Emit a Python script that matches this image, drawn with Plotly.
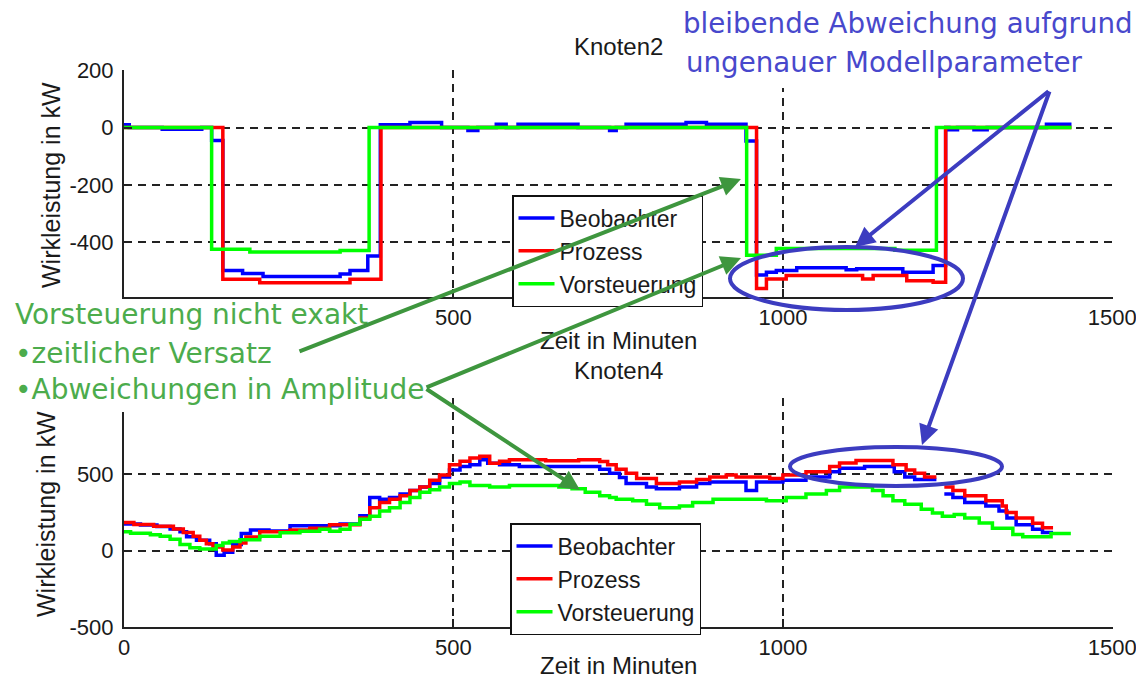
import plotly.graph_objects as go

# picture is 1144x679; the page body adds an 8px margin, so the figure is 8px smaller
OFF = 8
W, H = 1144 - OFF, 679 - OFF

# ---------------- data: Knoten2 (top) ----------------
k2_beob_t = [0, 8, 58, 118, 133, 150, 180, 211, 328, 343, 370, 389, 434, 482, 522, 537, 565, 580,
             598, 689, 737, 747, 762, 853, 884, 944, 960, 975, 990, 1021, 1096, 1112, 1182, 1228,
             1247, 1252, 1265, 1290, 1310, 1400, 1438]
k2_beob_v = [10, 0, -6, 0, -45, -498, -508, -519, -510, -498, -447, 10, 18, 0, -10, 0, 12, 0,
             12, 0, -10, 0, 12, 18, 12, -47, -513, -504, -498, -488, -495, -492, -504, -480,
             0, -8, 0, -8, 0, 12, 12]
k2_proz_t = [0, 150, 206, 343, 390, 960, 975, 1005, 1121, 1137, 1188, 1228, 1247, 1438]
k2_proz_v = [0, -528, -540, -528, 0, -560, -527, -515, -527, -515, -533, -539, 0, 0]
k2_vor_t = [0, 133, 191, 328, 372, 945, 990, 1170, 1233, 1438]
k2_vor_v = [0, -424, -433, -428, 0, -445, -421, -427, 0, 0]

# ---------------- data: Knoten4 (bottom) ----------------
k4_beob_t = [0, 25, 50, 70, 85, 95, 110, 130, 140, 152, 165, 178, 192, 220, 252, 328, 358, 373,
             388, 403, 419, 434, 449, 464, 479, 494, 510, 525, 540, 552, 570, 600, 700, 722, 737,
             752, 762, 793, 808, 843, 869, 889, 944, 960, 1000, 1035, 1071, 1086, 1124, 1169,
             1185, 1200, 1233, 1239, 1245, 1258, 1276, 1308, 1328, 1340, 1354, 1379, 1394, 1410]
k4_beob_v = [175, 168, 158, 143, 125, 91, 68, 46, -30, -10, 40, 113, 136, 130, 163, 175, 230, 349,
             338, 349, 372, 394, 417, 440, 484, 529, 552, 563, 597, 574, 563, 552, 552, 534, 507,
             480, 440, 417, 406, 417, 440, 450, 394, 450, 462, 484, 518, 541, 552, 518,
             484, 467, 467, None, 372, 349, 316, 293, 260, 215, 170, 140, 120, 120]
k4_proz_t = [0, 15, 45, 75, 90, 105, 115, 125, 135, 150, 165, 176, 185, 206, 252, 282, 312, 343,
             358, 373, 388, 403, 419, 434, 449, 464, 479, 494, 510, 525, 540, 555, 570, 585, 640,
             690, 722, 734, 747, 762, 778, 808, 843, 869, 889, 914, 929, 980, 1000, 1035, 1071,
             1086, 1111, 1167, 1187, 1200, 1215, 1233, 1239, 1245, 1258, 1276, 1308, 1333, 1339,
             1354, 1379, 1394, 1410]
k4_proz_v = [185, 172, 160, 143, 120, 95, 68, 45, 25, 5, 25, 50, 90, 125, 136, 147, 170, 170,
             215, 282, 316, 338, 360, 394, 417, 462, 496, 563, 586, 608, 619, 574, 586, 597, 590,
             597, 585, 563, 534, 507, 473, 440, 450, 467, 484, 496, 484, 473, 496, 518, 552,
             575, 592, 563, 529, 507, 484, 484, None, 417, 394, 361, 327, 293, 250,
             215, 180, 150, 150]
k4_vor_t = [0, 10, 40, 55, 70, 85, 100, 115, 140, 150, 160, 176, 206, 237, 267, 297, 312, 328,
            343, 358, 373, 388, 403, 419, 434, 449, 464, 479, 494, 510, 525, 555, 585, 630, 660,
            680, 700, 722, 737, 747, 772, 793, 813, 843, 863, 894, 975, 1005, 1035, 1066, 1086,
            1136, 1152, 1167, 1185, 1210, 1227, 1242, 1260, 1276, 1298, 1318, 1349, 1364, 1407,
            1437]
k4_vor_v = [125, 115, 105, 95, 75, 40, 20, 12, 35, 50, 61, 72, 95, 117, 128, 140, 128, 140,
            173, 207, 226, 260, 282, 316, 349, 383, 400, 417, 440, 450, 428, 417, 428, 428, 417,
            406, 383, 360, 349, 338, 327, 305, 282, 293, 316, 338, 327, 349, 372, 394, 417,
            394, 361, 327, 305, 271, 248, 226, 237, 214, 181, 147, 107, 91, 113,
            113]

series_names = ["Beobachter", "Prozess", "Vorsteuerung"]
series_colors = ["#0000ff", "#ff0000", "#00ff00"]

x_ticks = [0, 500, 1000, 1500]
k2_y_ticks = [-400, -200, 0, 200]
k2_y_labels = ["-400", "-200", "0", "200"]
k4_y_ticks = [-500, 0, 500, 1000]
k4_y_labels = ["-500", "0", "500", ""]


def px(x):
    return (x - OFF) / W


def py(y):
    return 1 - (y - OFF) / H


fig = go.Figure()

top = [(k2_beob_t, k2_beob_v), (k2_proz_t, k2_proz_v), (k2_vor_t, k2_vor_v)]
bot = [(k4_beob_t, k4_beob_v), (k4_proz_t, k4_proz_v), (k4_vor_t, k4_vor_v)]

for (t, v), name, col in zip(top, series_names, series_colors):
    fig.add_trace(go.Scatter(x=t, y=v, name=name, mode="lines", line=dict(color=col, width=3.5, shape="hv"),
                             xaxis="x", yaxis="y", legend="legend", connectgaps=False))
for (t, v), name, col in zip(bot, series_names, series_colors):
    fig.add_trace(go.Scatter(x=t, y=v, name=name, mode="lines", line=dict(color=col, width=3.5, shape="hv"),
                             xaxis="x2", yaxis="y2", legend="legend2", connectgaps=False))

arial = "Liberation Sans, Arial, sans-serif"
tickfont = dict(family=arial, size=22, color="#1a1a1a")
titlefont = dict(family=arial, size=24, color="#1a1a1a")
ytitlefont = dict(family=arial, size=25, color="#1a1a1a")

common_axis = dict(
    showgrid=True, gridcolor="#222222", gridwidth=1.5, griddash="8px,6px",
    showline=True, linecolor="#222222", linewidth=2,
    ticks="inside", ticklen=8, tickwidth=1.5, tickcolor="#222222",
    zeroline=False, tickfont=tickfont, mirror=False, automargin=False,
)

xdom = [px(124), px(1113)]
legfont = dict(family=arial, size=23, color="#1a1a1a")
fig.update_layout(
    width=W, height=H,
    margin=dict(l=0, r=0, t=0, b=0, autoexpand=False),
    paper_bgcolor="white", plot_bgcolor="white",
    xaxis=dict(domain=xdom, anchor="y", range=[0, 1501], tickvals=x_ticks,
               ticktext=["", "500", "1000", "1500"], ticklabelstandoff=0, **common_axis),
    yaxis=dict(domain=[py(297), py(70)], anchor="x", range=[-590, 200.5], tickvals=k2_y_ticks,
               ticktext=k2_y_labels, ticklabelstandoff=4, **common_axis),
    xaxis2=dict(domain=xdom, anchor="y2", range=[0, 1501], tickvals=x_ticks,
                ticktext=["0", "500", "1000", "1500"], ticklabelstandoff=0, **common_axis),
    yaxis2=dict(domain=[py(627), py(398)], anchor="x2", range=[-500, 1001], tickvals=k4_y_ticks,
                ticktext=k4_y_labels, ticklabelstandoff=4, **common_axis),
    legend=dict(x=px(512), y=py(195), xanchor="left", yanchor="top", bgcolor="white",
                bordercolor="#111111", borderwidth=1.5, font=legfont,
                tracegroupgap=0, itemwidth=36),
    legend2=dict(x=px(510), y=py(523), xanchor="left", yanchor="top", bgcolor="white",
                 bordercolor="#111111", borderwidth=1.5, font=legfont,
                 tracegroupgap=0, itemwidth=36),
    showlegend=True,
)

blue_c = "#3c3cc0"
blue_txt = "#4848cc"
green_txt = "#4cac4c"
green_arr = "#3e963e"

shapes = [
    # white boxes behind the callout texts (hide grid underneath as in reference)
    dict(type="rect", xref="paper", yref="paper", x0=px(672), x1=px(1150), y0=py(88), y1=py(0),
         fillcolor="white", line=dict(width=0), layer="above"),
    dict(type="rect", xref="paper", yref="paper", x0=px(0), x1=px(432), y0=py(412), y1=py(372),
         fillcolor="white", line=dict(width=0), layer="above"),
    # ellipses
    dict(type="circle", xref="paper", yref="paper", x0=px(730), x1=px(963), y0=py(310), y1=py(247),
         line=dict(color=blue_c, width=4), layer="above"),
    dict(type="circle", xref="paper", yref="paper", x0=px(790), x1=px(1002), y0=py(486), y1=py(447),
         line=dict(color=blue_c, width=4), layer="above"),
]
fig.update_layout(shapes=shapes)

dj = "DejaVu Sans, Verdana, sans-serif"


def label(text, x, y, font, angle=0, xanchor="center"):
    return dict(text=text, x=px(x), y=py(y), xref="paper", yref="paper", showarrow=False,
                font=font, xanchor=xanchor, yanchor="middle", textangle=angle)


ann = [
    label("Knoten2", 618, 46, titlefont),
    label("Knoten4", 618, 370, titlefont),
    label("Zeit in Minuten", 618, 340, titlefont),
    label("Zeit in Minuten", 618, 665, titlefont),
    label("Wirkleistung in kW", 51, 185, ytitlefont, angle=-90),
    label("Wirkleistung in kW", 46, 514, ytitlefont, angle=-90),
    label("bleibende Abweichung aufgrund", 681, 23, dict(family=dj, size=27.7, color=blue_txt), xanchor="left"),
    label("ungenauer Modellparameter", 684, 63, dict(family=dj, size=27.7, color=blue_txt), xanchor="left"),
    label("Vorsteuerung nicht exakt", 13, 314, dict(family=dj, size=28, color=green_txt), xanchor="left"),
    label("•zeitlicher Versatz", 13, 353, dict(family=dj, size=28, color=green_txt), xanchor="left"),
    label("•Abweichungen in Amplitude", 13, 389, dict(family=dj, size=28, color=green_txt), xanchor="left"),
]

arrows = [
    # (head_x, head_y, tail_x, tail_y, color)
    (741, 179, 298, 352, green_arr),
    (741, 258, 425, 388, green_arr),
    (580, 490, 425, 388, green_arr),
    (855, 247, 1050, 90, blue_c),
    (922, 445, 1050, 90, blue_c),
]
for hx, hy, tx, ty, c in arrows:
    ann.append(dict(text="", x=px(hx), y=py(hy), xref="paper", yref="paper", showarrow=True,
                    ax=tx - hx, ay=ty - hy, arrowhead=2, arrowsize=1, arrowwidth=4,
                    arrowcolor=c, standoff=0, startstandoff=0))

fig.update_layout(annotations=ann)

fig.write_html("out.html")
